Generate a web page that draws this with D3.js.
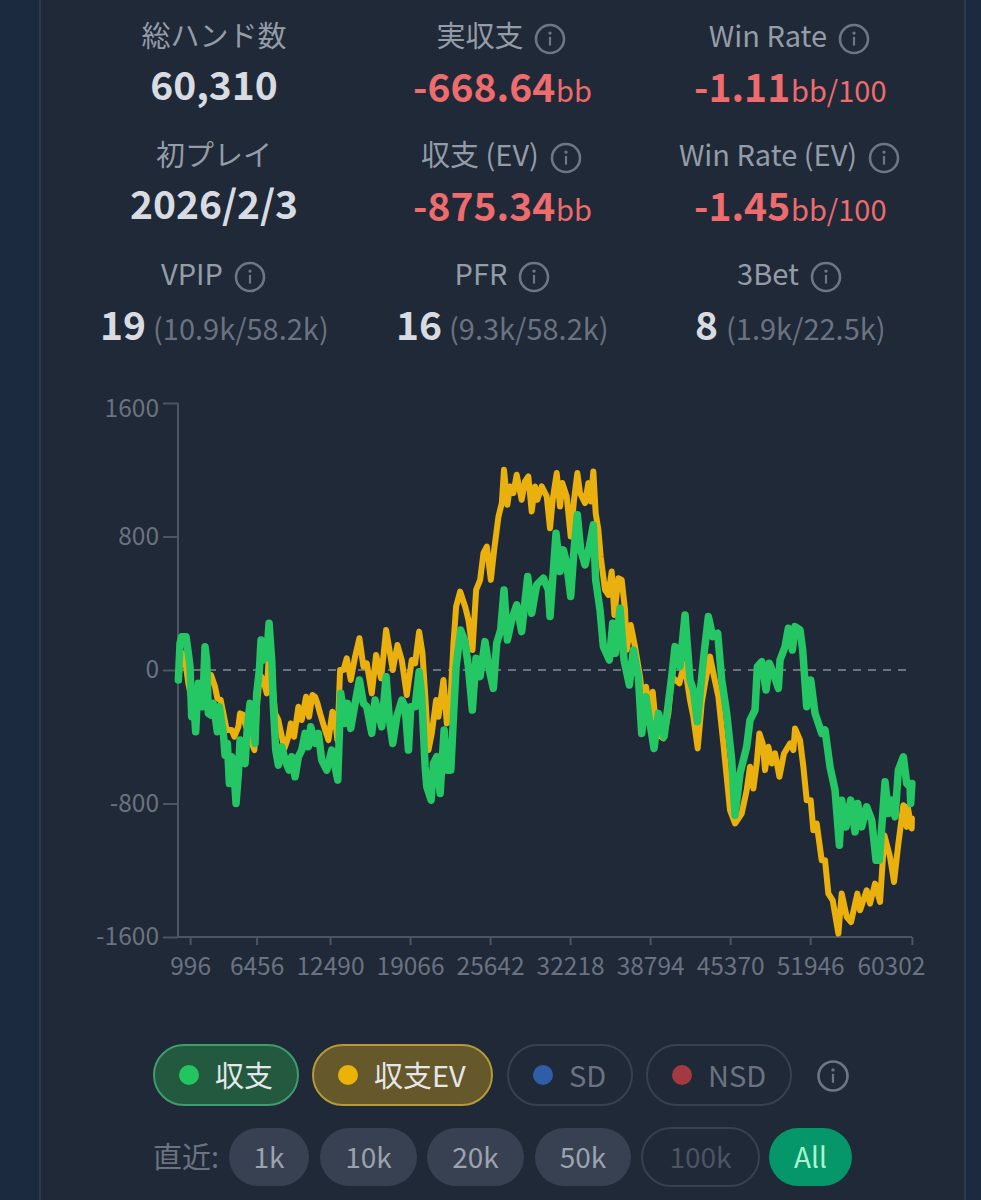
<!DOCTYPE html>
<html><head><meta charset="utf-8">
<style>html,body{margin:0;padding:0;background:#1b2a3e;overflow:hidden}svg{display:block}text{font-family:"Noto Sans CJK JP","Noto Sans",sans-serif}</style>
<script src="https://cdnjs.cloudflare.com/ajax/libs/d3/7.8.5/d3.min.js"></script>
</head><body><svg id="c" width="981" height="1200"></svg>
<script>
const greenHands=[29,166,303,659,851,988,1125,1317,1454,1591,1673,1810,2029,2221,2358,2495,2687,2906,3235,3399,3728,3865,4057,4221,4413,4550,4769,4961,5098,5290,5509,5701,5920,6139,6331,6468,6687,6824,7016,7290,7482,7701,7838,8030,8249,8523,8797,9126,9345,9619,9893,10167,10441,10715,10907,11263,11537,11811,12222,12633,12907,13126,13373,13729,13921,14195,14551,14907,15236,15510,15921,16195,16469,16743,17099,17373,17647,17976,18387,18661,18935,19127,19483,19812,20031,20305,20442,20798,20990,21264,21538,21867,22086,22415,22634,22853,23227,23583,23857,24186,24487,24816,25226,25582,25911,26185,26514,26787,27062,27418,27829,28240,28733,29061,29472,30020,30430,30568,31061,31390,31663,31937,32266,32540,32814,33087,33444,33800,34128,34320,34676,34950,35443,35717,35936,36320,36648,37086,37415,37826,38100,38456,38785,39113,39470,39935,40291,40565,40839,41250,41661,42071,42345,42674,43167,43578,43934,44345,44674,45084,45495,45769,46180,46728,47002,47413,47605,47962,48317,48591,48920,49330,49467,49878,50152,50481,50700,51110,51329,51658,51987,52343,52890,53164,53575,53986,54342,54534,54890,55274,55630,55849,56178,56589,57000,57355,57629,58095,58369,58643,58917,59190,59601,59875,60150,60204,60302];
const greenBB=[-60,160,200,200,100,20,-280,-220,-370,-160,-80,-220,-220,140,60,-260,-270,-200,-370,-220,-380,-510,-440,-680,-520,-560,-800,-620,-420,-540,-560,-340,-200,-220,-440,-140,0,180,60,80,280,60,-220,-480,-570,-460,-540,-600,-520,-640,-520,-480,-380,-460,-340,-440,-380,-540,-600,-480,-580,-660,-140,-320,-200,-350,-200,-60,-200,-220,-380,-180,-260,-340,-40,-300,-440,-280,-180,-220,-480,-220,-220,-10,-160,-580,-700,-780,-560,-520,-740,-360,-600,-600,-280,20,240,170,20,-240,70,-40,170,0,-110,160,240,480,180,300,390,230,560,340,510,550,480,320,820,590,720,640,440,720,930,720,630,740,870,540,360,140,60,280,100,370,60,-90,120,-40,-380,-160,-320,-470,-260,-400,-200,-40,140,20,330,-60,-120,-310,60,320,200,220,-60,-260,-540,-870,-620,-460,-300,-240,20,50,-120,40,-20,-110,60,140,250,120,260,240,120,-220,-60,-260,-380,-360,-580,-720,-1050,-780,-940,-780,-970,-800,-940,-820,-900,-1140,-1140,-670,-860,-780,-880,-600,-520,-680,-700,-800,-680];
const evHands=[29,166,440,659,851,1125,1400,1673,1950,2300,2714,3043,3235,3509,3783,4002,4413,4632,4961,5098,5372,5509,5783,6276,6523,6742,7016,7290,7427,7701,7975,8249,8386,8742,9071,9263,9537,9893,10167,10523,10770,11044,11263,11455,11674,12003,12359,12688,12907,13099,13318,13592,13866,14195,14551,14907,15236,15510,15921,16277,16688,17099,17373,17647,18031,18387,18798,19209,19483,19812,20086,20305,20579,20853,21209,21401,21812,22086,22305,22634,22853,23182,23593,23867,24196,24497,24826,25100,25374,25703,25977,26333,26607,26787,27062,27281,27555,27829,28240,28514,28787,29061,29335,29527,29883,30294,30568,30787,31116,31390,31581,31937,32266,32540,32814,33033,33444,33718,33909,34128,34320,34539,34731,35087,35361,35635,35854,36182,36456,36730,36867,37196,37552,37963,38237,38456,38731,39004,39332,39880,40291,40565,41195,41606,42071,42345,42701,43030,43304,43715,44044,44400,44810,45358,45769,46317,46728,47002,47276,47550,47769,48043,48235,48509,48783,49057,49413,49796,50288,50563,50700,51110,51384,51658,51987,52205,52479,52890,53164,53438,53794,54260,54534,54945,55301,55821,56041,56589,56863,57274,57684,58040,58506,58834,59190,59601,59875,59958,60287,60302];
const evBB=[-60,40,100,20,-80,-180,-260,-160,-160,-40,-30,-100,-170,-180,-280,-360,-360,-400,-340,-260,-270,-320,-380,-480,-180,-30,-60,-140,40,-20,-260,-300,-350,-470,-400,-320,-400,-220,-300,-160,-280,-150,-160,-200,-260,-340,-420,-250,-300,-420,0,0,70,-60,80,190,20,40,-140,90,-50,240,120,0,150,60,-150,60,40,230,100,-140,-480,-380,-180,-280,-60,-320,-300,160,380,470,380,300,120,480,540,700,740,540,720,920,1000,1200,990,1100,1060,1170,1020,1130,1160,950,1100,1020,1100,1040,850,1020,1180,980,1120,1040,800,1020,1180,1060,1000,1120,1010,1190,940,840,680,480,450,590,330,550,540,360,120,270,140,-40,-220,-100,-260,-130,-380,-410,-260,-40,-80,40,-180,-280,-470,-200,-80,80,-40,-160,-440,-840,-920,-860,-720,-580,-710,-560,-380,-440,-600,-460,-560,-500,-640,-500,-440,-480,-350,-420,-580,-780,-780,-960,-920,-1140,-1140,-1340,-1380,-1580,-1340,-1480,-1510,-1340,-1440,-1320,-1400,-1280,-1390,-990,-1120,-1270,-1040,-810,-940,-820,-950,-890];
const yTicks=[-1600,-800,0,800,1600];
const xTicks=[996,6456,12490,19066,25642,32218,38794,45370,51946,60302];
const statLabels=["総ハンド数","実収支","Win Rate","初プレイ","収支 (EV)","Win Rate (EV)","VPIP","PFR","3Bet"];
const statValues=["60,310","-668.64","-1.11","2026/2/3","-875.34","-1.45","19","16","8"];
const statUnits=["","bb","bb/100","","bb","bb/100","(10.9k/58.2k)","(9.3k/58.2k)","(1.9k/22.5k)"];
const legendNames=["収支","収支EV","SD","NSD"];
const rangeNames=["1k","10k","20k","50k","100k","All"];

const svg=d3.select("#c");
svg.append("rect").attr("x",40).attr("y",-2).attr("width",925).attr("height",1204).attr("fill","#1f2937").attr("stroke","#334155").attr("stroke-width",1.5);

const x=d3.scaleLinear().domain([0,60310]).range([178,912]);
const y=d3.scaleLinear().domain([-1600,1600]).range([937,403]);

function txt(px,py,s,size,fill,weight,anchor){
  return svg.append("text").attr("x",px).attr("y",py).attr("font-size",size).attr("fill",fill)
    .attr("font-weight",weight||400).attr("text-anchor",anchor||"middle").text(s);
}
function info(cx,cy,r){
  const g=svg.append("g").attr("transform",`translate(${cx},${cy})`);
  g.append("circle").attr("r",r).attr("fill","none").attr("stroke","#6b7787").attr("stroke-width",2.6);
  g.append("circle").attr("cy",-r*0.42).attr("r",1.7).attr("fill","#6b7787");
  g.append("rect").attr("x",-1.1).attr("y",-r*0.15).attr("width",2.2).attr("height",r*0.62).attr("fill","#6b7787");
}
const labelX=[214,480,768,214,480,768,192,481,768];
const labelY=[47,47,47,166,166,166,285,285,285];
const iconX=[null,550,854,null,566,884,250,534,826];
const grey="#949ca8";
statLabels.forEach((s,i)=>{txt(labelX[i],labelY[i],s,29,grey); if(iconX[i])info(iconX[i],labelY[i]-8,14);});
const red="#ee6b6e";
[[0,214],[3,214]].forEach(([i,cx])=>txt(cx,i==0?100:219,statValues[i],39,"#d8dce2",700));
[[1,413,556],[2,694,791],[4,413,556],[5,694,791]].forEach(([i,a,b])=>{
  const py=i<3?102:221;
  txt(a,py,statValues[i],39,red,700,"start");
  txt(b,py,statUnits[i],29,red,400,"start");
});
[[6,100,153],[7,396,449],[8,695,726]].forEach(([i,a,b])=>{
  txt(a,340,statValues[i],39,"#d8dce2",700,"start");
  txt(b,340,statUnits[i],29,"#6b7280",400,"start");
});

const axisColor="#4b5563",tickColor="#6b7280";
const ay=svg.append("g").attr("transform","translate(178,0)").call(d3.axisLeft(y).tickValues(yTicks).tickSize(15).tickPadding(4).tickFormat(d=>d));
const ax=svg.append("g").attr("transform","translate(0,937)").call(d3.axisBottom(x).tickValues(xTicks).tickSize(8).tickPadding(13).tickFormat(d=>d));
[ay,ax].forEach(a=>{
  a.selectAll("path,line").attr("stroke",axisColor).attr("stroke-width",2);
  a.selectAll("text").attr("fill",tickColor).attr("font-size",24.5).attr("font-family",'"Noto Sans CJK JP",sans-serif');
});
ax.select("path.domain").attr("d","M178,0H912");
ay.select("path.domain").attr("d","M0,403V937");
ay.selectAll(".tick text").filter(d=>d===1600).attr("dy","0.55em");
ax.selectAll(".tick text").filter(d=>d===60302).attr("dx",-21);

svg.append("line").attr("x1",x(0)).attr("x2",x(60310)).attr("y1",y(0)).attr("y2",y(0))
  .attr("stroke","#6b7280").attr("stroke-width",2).attr("stroke-dasharray","8,7");

const line=d3.line().x(d=>x(d[0])).y(d=>y(d[1])).curve(d3.curveLinear);
svg.append("path").attr("d",line(d3.zip(evHands,evBB))).attr("fill","none").attr("stroke","#eab10e").attr("stroke-width",6).attr("stroke-linejoin","round").attr("stroke-linecap","round");
svg.append("path").attr("d",line(d3.zip(greenHands,greenBB))).attr("fill","none").attr("stroke","#24c763").attr("stroke-width",7.5).attr("stroke-linejoin","round").attr("stroke-linecap","round");

const lx=[154,313,508,647],lw=[144,179,124,144];
const lf=["#22593f","#65582a","none","none"],ls=["#3f9c6c","#b59a36","#374151","#374151"];
const ld=["#22c55e","#eab308","#2f5da8","#a33a42"],lt=["#e5e7eb","#e5e7eb","#6b7280","#6b7280"];
legendNames.forEach((s,i)=>{
  svg.append("rect").attr("x",lx[i]).attr("y",1045).attr("width",lw[i]).attr("height",60).attr("rx",30).attr("fill",lf[i]).attr("stroke",ls[i]).attr("stroke-width",2);
  svg.append("circle").attr("cx",lx[i]+35).attr("cy",1075).attr("r",10).attr("fill",ld[i]);
  txt(lx[i]+61,1087,s,29,lt[i],400,"start");
});
info(833,1076,14.5);
txt(153,1168,"直近:",29,"#6b7280",400,"start");
const rx=[229,320,427,535,642,769],rw=[80,97,97,96,117,83];
rangeNames.forEach((s,i)=>{
  const g=i==4, a=i==5;
  svg.append("rect").attr("x",rx[i]).attr("y",1128).attr("width",rw[i]).attr("height",58).attr("rx",29)
    .attr("fill",a?"#059669":g?"none":"#374151").attr("stroke",g?"#374151":"none").attr("stroke-width",2);
  txt(rx[i]+rw[i]/2,1168,s,28,a?"#a7f3d0":g?"#4b5563":"#9ca3af");
});
</script></body></html>
